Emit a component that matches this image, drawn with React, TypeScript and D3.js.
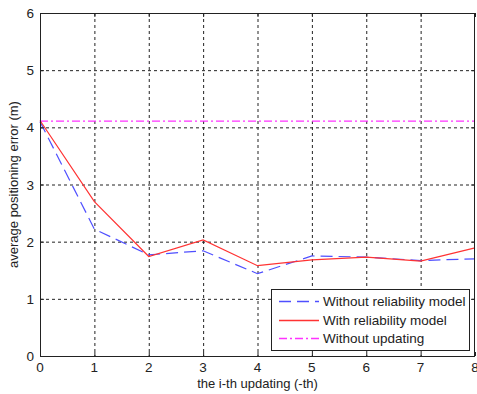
import { useEffect, useRef } from "react";
import * as d3 from "d3";

const steps = [0, 1, 2, 3, 4, 5, 6, 7, 8];
const withoutReliability = [4.1, 2.22, 1.77, 1.84, 1.44, 1.75, 1.73, 1.67, 1.7];
const withReliability = [4.12, 2.7, 1.74, 2.03, 1.58, 1.68, 1.73, 1.66, 1.89];
const withoutUpdating = 4.11;
const yTicks = [0, 1, 2, 3, 4, 5, 6];
const legendItems = [
  { label: "Without reliability model", color: "#4f4fff", dash: "12,6" },
  { label: "With reliability model", color: "#ff3333", dash: "none" },
  { label: "Without updating", color: "#ff33ff", dash: "8,3,2,3" },
];

export default function App() {
  const svgRef = useRef<SVGSVGElement>(null);

  useEffect(() => {
    if (!svgRef.current) return;
    const svg = d3.select(svgRef.current);
    svg.selectAll("*").remove();

    const margin = { top: 13, right: 2, bottom: 38, left: 40 };
    const W = 477, H = 394;
    const x = d3.scaleLinear().domain([0, 8]).range([margin.left, W - margin.right]);
    const y = d3.scaleLinear().domain([0, 6]).range([H - margin.bottom, margin.top]);
    const font = "Liberation Sans, Arial, sans-serif";

    svg.append("rect").attr("width", W).attr("height", H).attr("fill", "#fff");

    // grid
    const grid = svg.append("g").attr("stroke", "#222").attr("stroke-dasharray", "3,3").attr("stroke-width", 1);
    grid.selectAll("line.vx")
      .data(steps.slice(1, -1))
      .join("line")
      .attr("x1", (d) => x(d) + 0.5).attr("x2", (d) => x(d) + 0.5)
      .attr("y1", y(6)).attr("y2", y(0));
    grid.selectAll("line.hy")
      .data(yTicks.slice(1, -1))
      .join("line")
      .attr("class", "hy")
      .attr("x1", x(0)).attr("x2", x(8))
      .attr("y1", (d) => y(d) + 0.5).attr("y2", (d) => y(d) + 0.5);

    // series
    const line = d3.line<number>().x((_, i) => x(steps[i])).y((d) => y(d));
    svg.append("line")
      .attr("x1", x(0)).attr("x2", x(8))
      .attr("y1", y(withoutUpdating)).attr("y2", y(withoutUpdating))
      .attr("stroke", legendItems[2].color).attr("stroke-width", 1.2)
      .attr("stroke-dasharray", legendItems[2].dash);
    svg.append("path").datum(withoutReliability)
      .attr("d", line).attr("fill", "none")
      .attr("stroke", legendItems[0].color).attr("stroke-width", 1.2)
      .attr("stroke-dasharray", legendItems[0].dash);
    svg.append("path").datum(withReliability)
      .attr("d", line).attr("fill", "none")
      .attr("stroke", legendItems[1].color).attr("stroke-width", 1.2);

    // frame
    svg.append("rect")
      .attr("x", x(0) + 0.5).attr("y", y(6) + 0.5)
      .attr("width", x(8) - x(0) - 1).attr("height", y(0) - y(6))
      .attr("fill", "none").attr("stroke", "#222");

    // ticks
    const tk = svg.append("g").attr("stroke", "#222");
    steps.forEach((d) => {
      tk.append("line").attr("x1", x(d) + 0.5).attr("x2", x(d) + 0.5).attr("y1", y(0)).attr("y2", y(0) - 4);
      tk.append("line").attr("x1", x(d) + 0.5).attr("x2", x(d) + 0.5).attr("y1", y(6)).attr("y2", y(6) + 4);
    });
    yTicks.forEach((d) => {
      tk.append("line").attr("x1", x(0)).attr("x2", x(0) + 4).attr("y1", y(d) + 0.5).attr("y2", y(d) + 0.5);
      tk.append("line").attr("x1", x(8)).attr("x2", x(8) - 4).attr("y1", y(d) + 0.5).attr("y2", y(d) + 0.5);
    });

    svg.append("g").selectAll("text").data(steps).join("text")
      .attr("x", (d) => x(d)).attr("y", y(0) + 16)
      .attr("text-anchor", "middle").attr("font-family", font).attr("font-size", 13.5).attr("fill", "#222")
      .text((d) => d);
    svg.append("g").selectAll("text").data(yTicks).join("text")
      .attr("x", x(0) - 6).attr("y", (d) => y(d) + 5)
      .attr("text-anchor", "end").attr("font-family", font).attr("font-size", 13.5).attr("fill", "#222")
      .text((d) => d);

    svg.append("text")
      .attr("x", (x(0) + x(8)) / 2).attr("y", 388)
      .attr("text-anchor", "middle").attr("font-family", font).attr("font-size", 13).attr("fill", "#222")
      .text("the i-th updating (-th)");
    svg.append("text")
      .attr("transform", `translate(18,${(y(0) + y(6)) / 2}) rotate(-90)`)
      .attr("text-anchor", "middle").attr("font-family", font).attr("font-size", 13).attr("fill", "#222")
      .text("average positioning error (m)");

    // legend
    const lg = svg.append("g");
    lg.append("rect").attr("x", 271.5).attr("y", 289.5).attr("width", 198).attr("height", 61)
      .attr("fill", "#fff").attr("stroke", "#222");
    legendItems.forEach((it, i) => {
      const yy = 301 + i * 18.5;
      lg.append("line").attr("x1", 279).attr("x2", 319).attr("y1", Math.round(yy) + 0.5).attr("y2", Math.round(yy) + 0.5)
        .attr("stroke", it.color).attr("stroke-width", 1.3).attr("stroke-dasharray", it.dash);
      lg.append("text").attr("x", 323).attr("y", yy + 5)
        .attr("font-family", font).attr("font-size", 13.5).attr("fill", "#222").text(it.label);
    });
  }, []);

  return <svg ref={svgRef} width={477} height={394} style={{ display: "block", position: "absolute", left: 0, top: 0 }} />;
}
